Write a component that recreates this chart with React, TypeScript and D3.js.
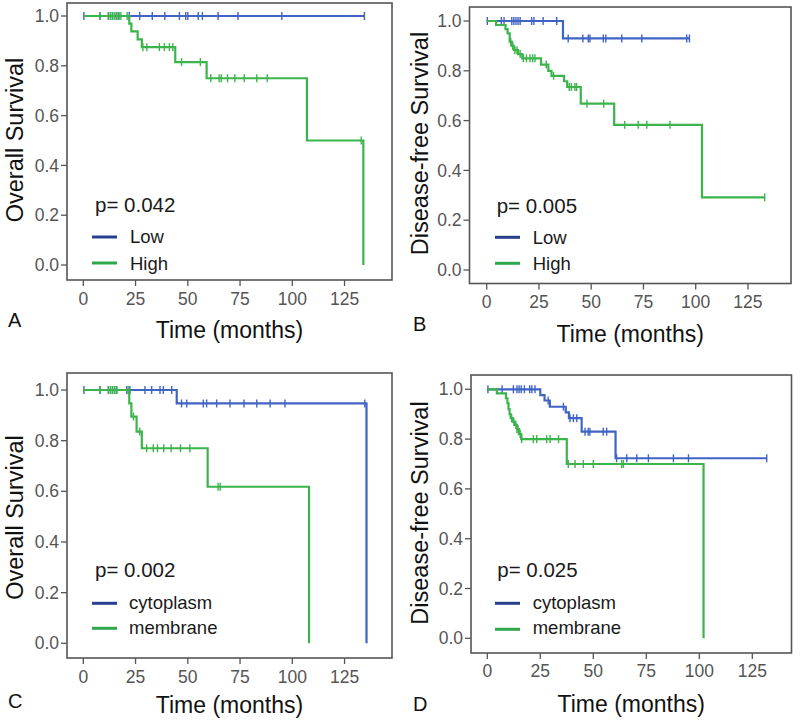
import React from "react";
import * as d3 from "d3";

const width = 800;
const height = 727;
const FONT = "'Liberation Sans', Arial, Helvetica, sans-serif";

// Kaplan-Meier data: events are [month, survival after event]
// censored are months of censored cases, end is the last follow-up month
type Curve = { events: [number, number][]; censored: number[]; end: number };

const xTicks = [0, 25, 50, 75, 100, 125];
const yTicks = [0, 0.2, 0.4, 0.6, 0.8, 1.0];

// A: Overall survival, Low vs High
const aLowEvents: [number, number][] = [];
const aLowCensored = [0.3, 8, 12, 13, 14, 15, 16, 17, 22, 27, 33, 39, 46, 49, 50, 55, 57, 64.5, 74, 95, 134.5];
const aHighEvents: [number, number][] = [
  [22, 0.969], [23, 0.938], [26, 0.906], [28, 0.875], [44, 0.815], [59, 0.75], [107, 0.5], [134, 0]
];
const aHighCensored = [8, 12, 13, 14, 15, 16, 17, 18, 21, 28.5, 30.4, 36.4, 38.8, 41.2, 42.8, 47, 56, 61, 65, 66, 69, 72.5, 77, 83, 88, 133];

// B: Disease-free survival, Low vs High
const bLowEvents: [number, number][] = [[36.5, 0.93]];
const bLowCensored = [0.3, 7, 8.3, 12, 13, 14, 15, 16, 21.5, 22.6, 27, 33.5, 39, 46, 48.6, 49.4, 55.8, 57, 64.6, 74.2, 95.7, 97];
const bHighEvents: [number, number][] = [
  [4.5, 0.984], [9, 0.967], [10, 0.95], [11, 0.917], [12, 0.9], [13, 0.883], [15, 0.867], [17, 0.85],
  [26, 0.825], [29.5, 0.8], [31, 0.78], [37, 0.758], [38.5, 0.735], [45, 0.668], [61, 0.583], [103, 0.292]
];
const bHighCensored = [11.5, 12.5, 13.5, 14.5, 16, 17.5, 19, 20.7, 22, 23.1, 28.5, 32, 39.5, 40.5, 42.2, 43, 48, 56, 66, 72.5, 76.6, 87.7, 133];

// C: Overall survival, cytoplasm vs membrane
const cCytoEvents: [number, number][] = [[44.7, 0.947], [135.5, 0]];
const cCytoCensored = [0.3, 8, 12, 13, 14, 15, 16, 20.8, 22.3, 29.5, 32.7, 36.7, 38.3, 42.3, 47, 49.5, 57.4, 59, 63.8, 70.2, 76.9, 83, 89.4, 96.5, 134.7];
const cMembEvents: [number, number][] = [
  [22, 0.947], [23, 0.895], [25.5, 0.836], [28, 0.77], [59.5, 0.618], [108, 0]
];
const cMembCensored = [8, 12, 13, 14, 15, 16, 21.5, 24, 27, 30.3, 33.5, 35.5, 38.5, 42, 46.5, 51, 64.5, 65.5];

// D: Disease-free survival, cytoplasm vs membrane
const dCytoEvents: [number, number][] = [
  [25, 0.977], [27, 0.955], [29.5, 0.93], [37, 0.907], [38.5, 0.884], [44.5, 0.83], [60.5, 0.723]
];
const dCytoCensored = [0.3, 7, 12.3, 14, 15, 16, 17.5, 20, 21, 22.5, 28.7, 35.9, 39, 40.6, 42.2, 46.1, 47.6, 48.4, 54.7, 56.3, 61, 65.8, 70.5, 76, 87.8, 94.9, 131.8];
const dMembEvents: [number, number][] = [
  [4.5, 0.984], [8.8, 0.964], [9.5, 0.944], [10, 0.92], [10.5, 0.9], [11, 0.884], [12, 0.87], [13, 0.857],
  [14, 0.84], [15, 0.82], [16, 0.8], [37.5, 0.7], [102, 0]
];
const dMembCensored = [11.5, 12.5, 13.5, 14, 14.5, 15.5, 16.2, 21.7, 23.3, 28, 29.6, 33.6, 38.2, 41.4, 45.3, 50, 63.4, 64.2];

const pValues = ["p= 0.042", "p= 0.005", "p= 0.002", "p= 0.025"];
const groupsAB = ["Low", "High"];
const groupsCD = ["cytoplasm", "membrane"];
const yTitles = ["Overall Survival", "Disease-free Survival", "Overall Survival", "Disease-free Survival"];
const letters = ["A", "B", "C", "D"];

const lineColors = ["#4064c4", "#3bb44c"];
const legendColors = ["#26408f", "#2fa84c"];

// layout of each panel (pixels)
const layouts = [
  { frame: [67, 3, 392, 280], x0: 83.3, ppm: 2.09, y1: 16, y0: 265, tickBase: 305, titleBase: 338, letterX: 8, letterBase: 327, yTitleX: 23.3, yTitleCy: 140, pX: 95, pBase: 212, legX: 92, legY: [237, 263], legTextX: 130, legBase: [243, 270] },
  { frame: [469.5, 7, 791, 283.5], x0: 486.7, ppm: 2.09, y1: 21, y0: 270, tickBase: 308, titleBase: 341.7, letterX: 413, letterBase: 331, yTitleX: 428, yTitleCy: 143.5, pX: 496.7, pBase: 213, legX: 495, legY: [237.3, 263.3], legTextX: 532.7, legBase: [244, 270] },
  { frame: [67, 373, 392, 658], x0: 83.3, ppm: 2.09, y1: 390, y0: 643.3, tickBase: 683, titleBase: 713, letterX: 8, letterBase: 708, yTitleX: 23.3, yTitleCy: 517.5, pX: 95, pBase: 576.7, legX: 92, legY: [603.3, 628.3], legTextX: 129, legBase: [608.5, 634] },
  { frame: [471, 375, 791.5, 653], x0: 487.3, ppm: 2.12, y1: 389.3, y0: 638.3, tickBase: 677, titleBase: 711.7, letterX: 413, letterBase: 711, yTitleX: 428, yTitleCy: 513, pX: 497.3, pBase: 576.7, legX: 495, legY: [603.3, 629.3], legTextX: 532.7, legBase: [608.5, 634] }
];

const panelCurves: Curve[][] = [
  [
    { events: aLowEvents, censored: aLowCensored, end: 134.5 },
    { events: aHighEvents, censored: aHighCensored, end: 134 }
  ],
  [
    { events: bLowEvents, censored: bLowCensored, end: 97 },
    { events: bHighEvents, censored: bHighCensored, end: 133 }
  ],
  [
    { events: cCytoEvents, censored: cCytoCensored, end: 135.5 },
    { events: cMembEvents, censored: cMembCensored, end: 108 }
  ],
  [
    { events: dCytoEvents, censored: dCytoCensored, end: 131.8 },
    { events: dMembEvents, censored: dMembCensored, end: 102 }
  ]
];

function survivalAt(c: Curve, t: number) {
  let s = 1;
  for (const [et, es] of c.events) if (et <= t) s = es;
  return s;
}

function stepPoints(c: Curve): [number, number][] {
  const pts: [number, number][] = [[0, 1]];
  c.events.forEach((e) => pts.push(e));
  pts.push([c.end, survivalAt(c, c.end)]);
  return pts;
}

function Panel({ i }: { i: number }) {
  const L = layouts[i];
  const [fl, ft, fr, fb] = L.frame;
  const xScale = d3.scaleLinear().domain([0, 125]).range([L.x0, L.x0 + 125 * L.ppm]);
  const yScale = d3.scaleLinear().domain([0, 1]).range([L.y0, L.y1]);
  const line = d3
    .line<[number, number]>()
    .x((d) => xScale(d[0]))
    .y((d) => yScale(d[1]))
    .curve(d3.curveStepAfter);
  const groups = i < 2 ? groupsAB : groupsCD;
  const fmt = d3.format(".1f");

  return (
    <g>
      <rect x={fl} y={ft} width={fr - fl} height={fb - ft} fill="none" stroke="#555" strokeWidth={1.6} />

      {/* y axis ticks */}
      {yTicks.map((t) => (
        <g key={"y" + t}>
          <line x1={fl - 6} x2={fl} y1={yScale(t)} y2={yScale(t)} stroke="#555" strokeWidth={1.3} />
          <text x={fl - 8} y={yScale(t)} dy="0.35em" textAnchor="end" fontSize={17.5} fill="#555" fontFamily={FONT}>
            {fmt(t)}
          </text>
        </g>
      ))}

      {/* x axis ticks */}
      {xTicks.map((t) => (
        <g key={"x" + t}>
          <line x1={xScale(t)} x2={xScale(t)} y1={fb} y2={fb + 6} stroke="#555" strokeWidth={1.3} />
          <text x={xScale(t)} y={L.tickBase} textAnchor="middle" fontSize={17.5} fill="#555" fontFamily={FONT}>
            {t}
          </text>
        </g>
      ))}

      {/* survival curves */}
      {panelCurves[i].map((c, k) => (
        <g key={"c" + k}>
          <path d={line(stepPoints(c)) || ""} fill="none" stroke={lineColors[k]} strokeWidth={2.2} />
          {c.censored.map((t, j) => (
            <line
              key={j}
              x1={xScale(t)}
              x2={xScale(t)}
              y1={yScale(survivalAt(c, t)) - 4}
              y2={yScale(survivalAt(c, t)) + 4}
              stroke={lineColors[k]}
              strokeWidth={1.4}
            />
          ))}
        </g>
      ))}

      {/* p-value and legend */}
      <text x={L.pX} y={L.pBase} fontSize={20.5} fill="#1a1a1a" fontFamily={FONT}>
        {pValues[i]}
      </text>
      {groups.map((g, k) => (
        <g key={g}>
          <line x1={L.legX} x2={L.legX + 25} y1={L.legY[k]} y2={L.legY[k]} stroke={legendColors[k]} strokeWidth={3} />
          <text x={L.legTextX} y={L.legBase[k]} fontSize={18.5} fill="#1a1a1a" fontFamily={FONT}>
            {g}
          </text>
        </g>
      ))}

      {/* titles */}
      <text x={(fl + fr) / 2} y={L.titleBase} textAnchor="middle" fontSize={23} fill="#111" fontFamily={FONT}>
        Time (months)
      </text>
      <text
        transform={`translate(${L.yTitleX},${L.yTitleCy}) rotate(-90)`}
        textAnchor="middle"
        fontSize={23.5}
        fill="#111"
        fontFamily={FONT}
      >
        {yTitles[i]}
      </text>
      <text x={L.letterX} y={L.letterBase} fontSize={20} fill="#111" fontFamily={FONT}>
        {letters[i]}
      </text>
    </g>
  );
}

export default function App() {
  return (
    <svg
      width={width}
      height={height}
      style={{ position: "absolute", left: 0, top: 0, background: "#fff" }}
    >
      <rect width={width} height={height} fill="#fff" />
      {layouts.map((_, i) => (
        <Panel key={i} i={i} />
      ))}
    </svg>
  );
}
